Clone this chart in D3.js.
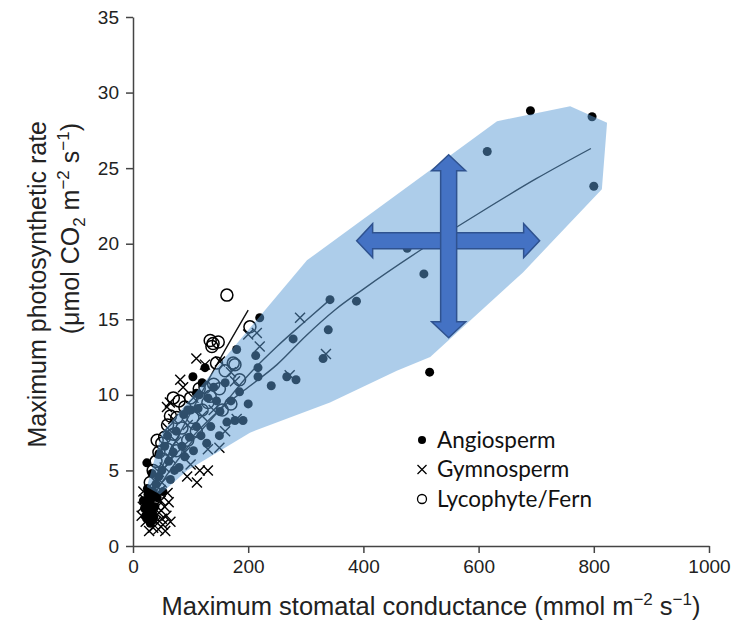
<!DOCTYPE html>
<html><head><meta charset="utf-8">
<script src="https://cdn.jsdelivr.net/npm/d3@7"></script>
<style>body{margin:0;background:#fff}svg{display:block}</style>
</head><body>
<script>
// Axis ticks
const xTicks = [0, 200, 400, 600, 800, 1000];
const yTicks = [0, 5, 10, 15, 20, 25, 30, 35];

// Species observations: [stomatal conductance, photosynthetic rate]
const angiosperm = [
  [690,28.8],[797,28.4],[800,23.8],[615,26.1],[515,11.5],[505,18.0],[476,19.7],[388,16.2],
  [342,16.3],[339,14.3],[330,12.4],[278,13.7],[220,15.1],[213,12.6],[180,13.0],[217,11.8],
  [217,11.2],[267,11.2],[283,11.0],[191,8.3],[177,8.3],[163,8.2],[151,8.9],[128,6.8],
  [113,9.1],[115,10.0],[104,11.2],[120,10.8],[140,10.5],[130,9.8],[95,9.0],[88,8.7],
  [110,7.9],[98,7.2],[85,6.6],[75,7.6],[70,6.2],[62,5.6],[80,5.2],[90,5.9],[105,6.3],
  [118,7.3],[135,7.9],[145,9.6],[160,10.8],[60,7.3],[55,6.6],[50,5.0],[45,4.6],[65,4.4],
  [72,5.0],[40,4.1],[35,3.6],[30,3.1],[38,2.6],[28,2.4],[25,3.8],[33,4.8],[45,6.1],
  [52,3.6],[24,5.5],[22,2.0],[30,1.5],[42,3.2],[150,7.3],[170,9.6],[125,11.8],[110,10.1],
  [100,9.0],[200,9.4],[240,10.6],[185,10.2],[18,3.0],[20,2.5],[24,1.8],[26,3.4],[34,2.2],
  [36,1.9],[28,2.9],[32,3.6]
];
const gymnosperm = [
  [335,12.7],[290,15.1],[272,11.3],[220,13.2],[200,14.0],[215,14.1],[151,12.2],[177,10.9],
  [82,11.0],[64,9.5],[59,9.2],[87,10.5],[111,4.2],[116,5.0],[130,5.0],[94,4.6],[130,6.4],
  [60,7.8],[70,8.4],[95,8.0],[120,8.6],[140,9.0],[105,9.8],[75,6.9],[90,6.2],[100,5.4],
  [65,5.8],[55,5.2],[50,4.2],[45,4.9],[40,3.4],[35,2.9],[30,2.2],[40,1.6],[45,2.2],
  [50,1.8],[35,1.2],[55,2.6],[48,3.0],[25,2.7],[28,3.3],[20,3.1],[60,3.5],[38,4.3],
  [160,7.6],[180,8.4],[150,6.5],[170,11.5],[125,12.0],[110,12.4],[15,2.0],[18,3.6],
  [22,1.6],[26,2.0],[32,1.8],[36,3.2],[42,2.6],[44,1.1],[52,1.4],[58,2.0],[62,2.9],
  [28,1.0],[48,3.7],[17,2.6],[65,1.6],[56,1.0]
];
const fern = [
  [163,16.6],[134,13.6],[139,13.4],[148,13.5],[137,13.2],[203,14.5],[174,12.1],[177,12.0],
  [76,8.5],[104,8.5],[125,10.5],[140,10.7],[115,10.4],[100,9.8],[90,9.2],[80,9.6],
  [65,8.6],[60,8.0],[55,7.2],[70,7.4],[85,7.8],[95,7.0],[110,7.6],[120,9.0],[130,9.5],
  [150,10.4],[160,11.6],[145,12.1],[42,7.0],[45,6.2],[50,6.8],[35,5.0],[40,5.6],[60,6.4],
  [75,6.3],[30,4.2],[155,9.0],[170,9.4],[185,11.0],[134,9.9],[70,9.8]
];

// Fitted trend curves for each group
const angioFit = [[25,3.2],[50,4.9],[100,7.1],[150,9.0],[200,10.5],[250,12.0],[300,13.9],
  [350,15.6],[400,17.0],[500,19.6],[600,22.0],[700,24.3],[795,26.3]];
const gymnoFit = [[20,2.3],[50,4.2],[100,6.8],[150,9.0],[200,11.3],[250,13.2],[300,14.9],[342,16.3]];
const fernFit = [[20,2.8],[50,5.2],[100,8.8],[150,12.3],[200,15.6]];

// Envelope enclosing the angiosperm range
const envelope = [[24,3.9],[50,7.5],[302,18.9],[632,28.1],[759,29.1],[823,28.0],[814,23.6],
  [677,18.1],[516,12.5],[458,11.6],[342,9.5],[203,7.5],[94,5.0],[47,3.4]];

// Centre of the four-way arrow
const arrowCentre = [548, 20.2];

const legendLabels = ["Angiosperm", "Gymnosperm", "Lycophyte/Fern"];

const W = 731, H = 626;
const FONT = "'Liberation Sans', Arial, sans-serif";
const x = d3.scaleLinear().domain([0, 1000]).range([133, 709]);
const y = d3.scaleLinear().domain([0, 35]).range([546, 17]);

const svg = d3.select("body").append("svg").attr("width", W).attr("height", H)
  .style("font-family", FONT);

// Axes
const axisColor = "#444";
const gx = svg.append("g").attr("transform", "translate(0,546)")
  .call(d3.axisBottom(x).tickValues(xTicks).tickFormat(d3.format("d"))
    .tickSize(7).tickSizeOuter(0).tickPadding(7));
const gy = svg.append("g").attr("transform", "translate(133,0)")
  .call(d3.axisLeft(y).tickValues(yTicks).tickFormat(d3.format("d"))
    .tickSize(7).tickSizeOuter(0).tickPadding(7));
[gx, gy].forEach(g => {
  g.attr("font-family", null).attr("font-size", null);
  g.select(".domain").attr("stroke", axisColor).attr("stroke-width", 1.5);
  g.selectAll(".tick line").attr("stroke", axisColor).attr("stroke-width", 1.5);
  g.selectAll(".tick text").attr("fill", "#222")
    .style("font-family", FONT).style("font-size", "19px");
});

// Fit lines
const line = d3.line().x(d => x(d[0])).y(d => y(d[1])).curve(d3.curveMonotoneX);
const fits = svg.append("g").attr("fill", "none").attr("stroke", "#111").attr("stroke-width", 1.4);
[angioFit, gymnoFit, fernFit].forEach(f => fits.append("path").attr("d", line(f)));

// Points
const pts = svg.append("g");
pts.selectAll("circle.a").data(angiosperm).join("circle").attr("class", "a")
  .attr("cx", d => x(d[0])).attr("cy", d => y(d[1])).attr("r", 4.5).attr("fill", "#000");
const cross = 5;
pts.selectAll("path.g").data(gymnosperm).join("path").attr("class", "g")
  .attr("d", d => {
    const cx = x(d[0]), cy = y(d[1]);
    return `M${cx-cross},${cy-cross}L${cx+cross},${cy+cross}M${cx-cross},${cy+cross}L${cx+cross},${cy-cross}`;
  })
  .attr("stroke", "#000").attr("stroke-width", 1.4).attr("fill", "none");
pts.selectAll("circle.f").data(fern).join("circle").attr("class", "f")
  .attr("cx", d => x(d[0])).attr("cy", d => y(d[1])).attr("r", 6)
  .attr("fill", "none").attr("stroke", "#000").attr("stroke-width", 1.5);

// Translucent envelope over the points
svg.append("path")
  .attr("d", d3.line().x(d => x(d[0])).y(d => y(d[1])).curve(d3.curveLinearClosed)(envelope))
  .attr("fill", "#5B9BD5").attr("fill-opacity", 0.5);

// Four-way arrow
function doubleArrow(cx, cy, neg, pos, horizontal) {
  const sw = 8, hw = 17, hl = 16;
  const p = [[-neg,0],[-neg+hl,-hw],[-neg+hl,-sw],[pos-hl,-sw],[pos-hl,-hw],[pos,0],
             [pos-hl,hw],[pos-hl,sw],[-neg+hl,sw],[-neg+hl,hw]];
  return "M" + p.map(([a,b]) => horizontal ? [cx+a, cy+b] : [cx+b, cy+a]).join("L") + "Z";
}
const ax = x(arrowCentre[0]), ay = y(arrowCentre[1]);
const arrows = svg.append("g").attr("fill", "#4472C4").attr("stroke", "#2F528F").attr("stroke-width", 1.5);
arrows.append("path").attr("d", doubleArrow(ax, ay, 92, 91, true));
arrows.append("path").attr("d", doubleArrow(ax, ay, 86, 97, false));

// Legend
const leg = svg.append("g").attr("transform", "translate(422,440)")
  .style("font-family", "Lato, 'Open Sans', sans-serif").style("font-size", "22.5px");
legendLabels.forEach((t, i) => {
  const g = leg.append("g").attr("transform", `translate(0,${i*29.5})`);
  if (i === 0) g.append("circle").attr("r", 4).attr("fill", "#000");
  if (i === 1) g.append("path").attr("d", "M-4.5,-4.5L4.5,4.5M-4.5,4.5L4.5,-4.5").attr("stroke", "#000").attr("stroke-width", 1.3);
  if (i === 2) g.append("circle").attr("r", 4.5).attr("fill", "none").attr("stroke", "#000").attr("stroke-width", 1.3);
  g.append("text").attr("x", 15).attr("dy", "0.35em").attr("fill", "#111").text(t);
});

// Axis titles
const xt = svg.append("text").attr("x", 431).attr("y", 615).attr("text-anchor", "middle")
  .style("font-size", "25.5px").attr("fill", "#222");
xt.append("tspan").text("Maximum stomatal conductance (mmol m");
xt.append("tspan").attr("dy", -10).style("font-size", "17px").text("−2");
xt.append("tspan").attr("dy", 10).text(" s");
xt.append("tspan").attr("dy", -10).style("font-size", "17px").text("−1");
xt.append("tspan").attr("dy", 10).text(")");

const yt = svg.append("g").attr("transform", "rotate(-90)").style("font-size", "25px").attr("fill", "#222");
yt.append("text").attr("x", -121).attr("y", 46).attr("text-anchor", "end").text("Maximum photosynthetic rate");
const yt2 = yt.append("text").attr("x", -123).attr("y", 79).attr("text-anchor", "end");
yt2.append("tspan").text("(μmol CO");
yt2.append("tspan").attr("dy", 6).style("font-size", "17px").text("2");
yt2.append("tspan").attr("dy", -6).text(" m");
yt2.append("tspan").attr("dy", -10).style("font-size", "17px").text("−2");
yt2.append("tspan").attr("dy", 10).text(" s");
yt2.append("tspan").attr("dy", -10).style("font-size", "17px").text("−1");
yt2.append("tspan").attr("dy", 10).text(")");
</script>
</body></html>
